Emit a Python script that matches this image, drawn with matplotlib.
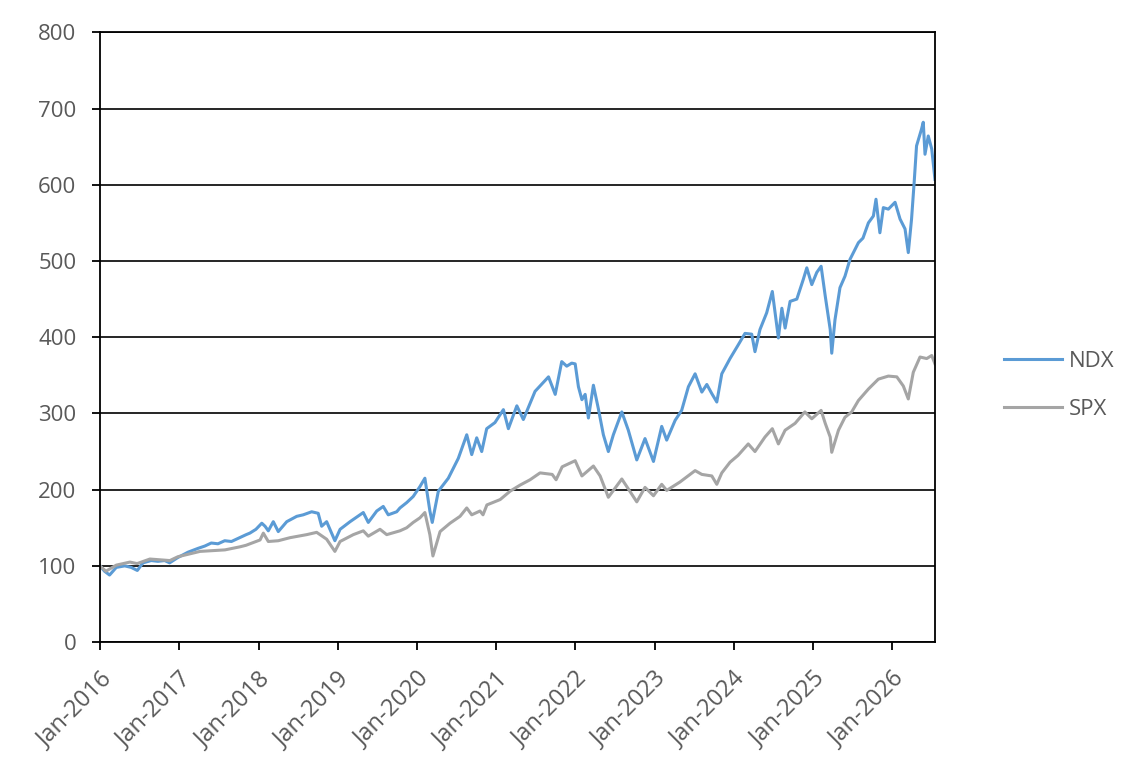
import pandas as pd
import matplotlib
matplotlib.use("Agg")
import matplotlib.pyplot as plt
import matplotlib.dates as mdates

# values (index, Jan-2016 = 100)
ndx_dates = [
    "2016-01-01", "2016-01-22", "2016-02-14", "2016-03-16", "2016-04-24", "2016-05-24",
    "2016-06-21", "2016-07-17", "2016-08-24", "2016-09-24", "2016-10-25", "2016-11-17",
    "2016-12-25", "2017-02-10", "2017-03-28", "2017-04-28", "2017-05-28", "2017-06-28",
    "2017-07-29", "2017-08-29", "2017-09-28", "2017-11-05", "2017-11-22", "2017-12-20",
    "2018-01-16", "2018-01-31", "2018-02-15", "2018-03-10", "2018-04-02", "2018-05-11",
    "2018-06-26", "2018-07-26", "2018-09-03", "2018-10-03", "2018-10-19", "2018-11-11",
    "2018-11-26", "2018-12-19", "2019-01-12", "2019-02-27", "2019-04-29", "2019-05-22",
    "2019-06-30", "2019-07-30", "2019-08-22", "2019-09-30", "2019-10-15", "2019-11-15",
    "2019-12-15", "2020-01-15", "2020-02-07", "2020-03-01", "2020-03-12", "2020-04-09",
    "2020-05-25", "2020-07-10", "2020-08-18", "2020-09-10", "2020-10-03", "2020-10-26",
    "2020-11-18", "2020-12-26", "2021-02-03", "2021-02-26", "2021-04-06", "2021-05-06",
    "2021-06-29", "2021-08-30", "2021-09-30", "2021-10-30", "2021-11-22", "2021-12-15",
    "2021-12-31", "2022-01-15", "2022-01-31", "2022-02-15", "2022-03-02", "2022-03-25",
    "2022-04-17", "2022-05-10", "2022-06-02", "2022-06-25", "2022-08-03", "2022-09-02",
    "2022-10-11", "2022-11-18", "2022-12-27", "2023-02-03", "2023-02-26", "2023-04-06",
    "2023-05-06", "2023-06-06", "2023-07-07", "2023-08-07", "2023-08-30", "2023-09-22",
    "2023-10-15", "2023-11-07", "2023-12-15", "2024-01-22", "2024-02-22", "2024-03-24",
    "2024-04-08", "2024-05-01", "2024-06-01", "2024-06-27", "2024-07-25", "2024-08-10",
    "2024-08-25", "2024-09-17", "2024-10-18", "2024-11-17", "2024-12-03", "2024-12-26",
    "2025-01-18", "2025-02-07", "2025-02-26", "2025-03-21", "2025-03-28", "2025-04-12",
    "2025-05-05", "2025-05-28", "2025-06-20", "2025-07-29", "2025-08-19", "2025-09-13",
    "2025-10-06", "2025-10-18", "2025-11-05", "2025-11-21", "2025-12-14", "2026-01-14",
    "2026-02-06", "2026-03-01", "2026-03-16", "2026-03-31", "2026-04-12", "2026-04-23",
    "2026-05-16", "2026-05-24", "2026-06-01", "2026-06-16", "2026-07-02", "2026-07-17",
]
ndx_values = [
    100, 93, 88, 98, 100, 98,
    94, 104, 107, 106, 107, 104,
    111, 118, 123, 126, 130, 129,
    133, 132, 136, 141, 143, 148,
    156, 152, 146, 158, 145, 158,
    165, 167, 171, 169, 152, 158,
    148, 133, 148, 158, 170, 157,
    172, 178, 167, 171, 176, 183,
    191, 204, 215, 172, 157, 198,
    215, 241, 272, 246, 268, 250,
    280, 288, 305, 280, 310, 292,
    329, 348, 325, 368, 362, 366,
    365, 335, 318, 325, 294, 337,
    306, 272, 250, 272, 302, 278,
    239, 267, 237, 283, 265, 291,
    304, 335, 352, 328, 338, 326,
    315, 352, 372, 390, 405, 404,
    381, 410, 432, 460, 399, 438,
    412, 447, 450, 476, 491, 469,
    485, 493, 454, 410, 379, 423,
    465, 480, 502, 524, 530, 550,
    559, 581, 537, 570, 568, 577,
    555, 542, 511, 555, 603, 651,
    673, 682, 640, 664, 647, 607,
]

spx_dates = [
    "2016-01-01", "2016-01-28", "2016-03-16", "2016-05-18", "2016-06-20", "2016-08-18",
    "2016-11-18", "2016-12-25", "2017-04-06", "2017-07-30", "2017-10-07", "2017-11-04",
    "2018-01-08", "2018-01-23", "2018-02-15", "2018-04-02", "2018-05-26", "2018-08-11",
    "2018-09-26", "2018-11-11", "2018-12-19", "2019-01-12", "2019-03-14", "2019-04-29",
    "2019-05-22", "2019-07-15", "2019-08-15", "2019-10-15", "2019-11-15", "2019-12-15",
    "2020-01-15", "2020-02-07", "2020-03-01", "2020-03-15", "2020-04-17", "2020-06-02",
    "2020-07-18", "2020-08-18", "2020-09-10", "2020-10-18", "2020-11-01", "2020-11-19",
    "2021-01-19", "2021-03-06", "2021-04-21", "2021-06-06", "2021-07-22", "2021-09-16",
    "2021-10-04", "2021-11-01", "2021-12-31", "2022-01-31", "2022-03-25", "2022-04-25",
    "2022-06-02", "2022-08-03", "2022-09-02", "2022-10-11", "2022-11-18", "2022-12-27",
    "2023-02-03", "2023-02-26", "2023-04-28", "2023-07-07", "2023-08-07", "2023-09-22",
    "2023-10-15", "2023-11-07", "2023-12-15", "2024-01-21", "2024-03-08", "2024-04-08",
    "2024-05-24", "2024-06-27", "2024-07-25", "2024-08-25", "2024-10-10", "2024-11-24",
    "2024-12-26", "2025-02-07", "2025-02-26", "2025-03-21", "2025-03-28", "2025-04-28",
    "2025-05-28", "2025-06-28", "2025-07-29", "2025-09-13", "2025-10-29", "2025-12-14",
    "2026-01-22", "2026-02-21", "2026-03-16", "2026-04-08", "2026-05-09", "2026-06-09",
    "2026-07-02", "2026-07-17",
]
spx_values = [
    100, 93, 101, 105, 103, 109,
    107, 112, 119, 121, 125, 127,
    134, 143, 132, 133, 137, 141,
    144, 135, 119, 132, 141, 146,
    139, 148, 141, 146, 150, 157,
    163, 170, 141, 113, 145, 156,
    165, 176, 167, 172, 167, 180,
    187, 198, 206, 213, 222, 220,
    213, 230, 238, 218, 231, 218,
    190, 214, 201, 184, 203, 192,
    207, 199, 210, 225, 220, 218,
    207, 222, 236, 245, 260, 250,
    269, 280, 260, 278, 287, 302,
    293, 304, 287, 269, 249, 278,
    295, 302, 317, 332, 345, 349,
    348, 336, 319, 354, 374, 372,
    376, 365,
]

ndx = pd.Series(ndx_values, index=pd.to_datetime(ndx_dates))
spx = pd.Series(spx_values, index=pd.to_datetime(spx_dates))

plt.rcParams["font.family"] = ["Open Sans", "DejaVu Sans"]
text_col = "#595959"

fig = plt.figure(figsize=(11.43, 7.69), dpi=100)
ax = fig.add_axes([0.0875, 0.165, 0.7305, 0.793])

ax.plot(ndx.index, ndx.values, color="#5B9BD5", lw=2.2, label="NDX")
ax.plot(spx.index, spx.values, color="#A5A5A5", lw=2.2, label="SPX")

ax.set_ylim(0, 800)
ax.set_yticks(range(0, 801, 100))
ax.set_xlim(pd.Timestamp("2016-01-01"), pd.Timestamp("2026-07-17"))
ax.xaxis.set_major_locator(mdates.YearLocator())
ax.xaxis.set_major_formatter(mdates.DateFormatter("%b-%Y"))
ax.grid(axis="y", color="black", lw=1.2)
ax.set_axisbelow(True)

for side in ax.spines.values():
    side.set_color("black")
    side.set_linewidth(1.3)

ax.tick_params(axis="both", colors="black", length=6, width=1.3, direction="out",
               labelsize=16, labelcolor=text_col)
ax.tick_params(axis="y", pad=11)
ax.tick_params(axis="x", pad=12, labelsize=17)
plt.setp(ax.get_xticklabels(), rotation=45, ha="right", rotation_mode="anchor")

fig.legend(loc="center left", bbox_to_anchor=(0.861, 0.499), frameon=False,
           fontsize=16, labelcolor=text_col, handlelength=2.6, handletextpad=0.3,
           labelspacing=1.2)

fig.savefig("out.png", dpi=100)
